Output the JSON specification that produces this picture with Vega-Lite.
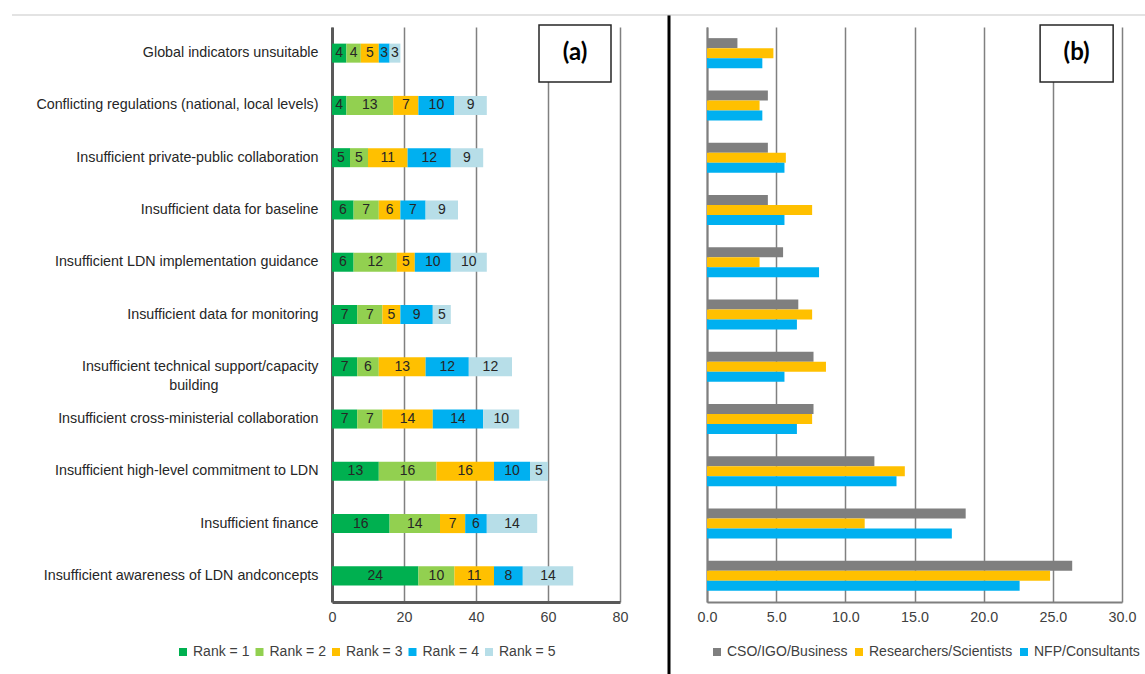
{
  "$schema": "https://vega.github.io/schema/vega-lite/v6.json",
  "background": "white",
  "padding": {"left": 11, "top": 13, "right": 0, "bottom": 0},
  "bounds": "flush",
  "spacing": 38,
  "resolve": {"scale": {"color": "independent"}, "legend": {"color": "independent"}},
  "config": {
    "font": "Liberation Sans, Arial, sans-serif",
    "view": {"stroke": null},
    "axis": {"labelFontSize": 14.3, "labelColor": "#404040", "ticks": false, "title": null},
    "axisX": {"grid": true, "gridColor": "#808080", "gridWidth": 1.5, "labelPadding": 8, "labelFlush": false},
    "legend": {"labelFontSize": 14, "labelColor": "#404040", "symbolType": "square", "symbolSize": 64, "symbolStrokeWidth": 0, "labelOffset": 3, "direction": "horizontal", "orient": "none", "title": null, "columnPadding": 0}
  },
  "datasets": {
    "ranks": [
      {"barrier": "Global indicators unsuitable", "rank": "Rank = 1", "count": 4},
      {"barrier": "Global indicators unsuitable", "rank": "Rank = 2", "count": 4},
      {"barrier": "Global indicators unsuitable", "rank": "Rank = 3", "count": 5},
      {"barrier": "Global indicators unsuitable", "rank": "Rank = 4", "count": 3},
      {"barrier": "Global indicators unsuitable", "rank": "Rank = 5", "count": 3},
      {"barrier": "Conflicting regulations (national, local levels)", "rank": "Rank = 1", "count": 4},
      {"barrier": "Conflicting regulations (national, local levels)", "rank": "Rank = 2", "count": 13},
      {"barrier": "Conflicting regulations (national, local levels)", "rank": "Rank = 3", "count": 7},
      {"barrier": "Conflicting regulations (national, local levels)", "rank": "Rank = 4", "count": 10},
      {"barrier": "Conflicting regulations (national, local levels)", "rank": "Rank = 5", "count": 9},
      {"barrier": "Insufficient private-public collaboration", "rank": "Rank = 1", "count": 5},
      {"barrier": "Insufficient private-public collaboration", "rank": "Rank = 2", "count": 5},
      {"barrier": "Insufficient private-public collaboration", "rank": "Rank = 3", "count": 11},
      {"barrier": "Insufficient private-public collaboration", "rank": "Rank = 4", "count": 12},
      {"barrier": "Insufficient private-public collaboration", "rank": "Rank = 5", "count": 9},
      {"barrier": "Insufficient data for baseline", "rank": "Rank = 1", "count": 6},
      {"barrier": "Insufficient data for baseline", "rank": "Rank = 2", "count": 7},
      {"barrier": "Insufficient data for baseline", "rank": "Rank = 3", "count": 6},
      {"barrier": "Insufficient data for baseline", "rank": "Rank = 4", "count": 7},
      {"barrier": "Insufficient data for baseline", "rank": "Rank = 5", "count": 9},
      {"barrier": "Insufficient LDN implementation guidance", "rank": "Rank = 1", "count": 6},
      {"barrier": "Insufficient LDN implementation guidance", "rank": "Rank = 2", "count": 12},
      {"barrier": "Insufficient LDN implementation guidance", "rank": "Rank = 3", "count": 5},
      {"barrier": "Insufficient LDN implementation guidance", "rank": "Rank = 4", "count": 10},
      {"barrier": "Insufficient LDN implementation guidance", "rank": "Rank = 5", "count": 10},
      {"barrier": "Insufficient data for monitoring", "rank": "Rank = 1", "count": 7},
      {"barrier": "Insufficient data for monitoring", "rank": "Rank = 2", "count": 7},
      {"barrier": "Insufficient data for monitoring", "rank": "Rank = 3", "count": 5},
      {"barrier": "Insufficient data for monitoring", "rank": "Rank = 4", "count": 9},
      {"barrier": "Insufficient data for monitoring", "rank": "Rank = 5", "count": 5},
      {"barrier": "Insufficient technical support/capacity building", "rank": "Rank = 1", "count": 7},
      {"barrier": "Insufficient technical support/capacity building", "rank": "Rank = 2", "count": 6},
      {"barrier": "Insufficient technical support/capacity building", "rank": "Rank = 3", "count": 13},
      {"barrier": "Insufficient technical support/capacity building", "rank": "Rank = 4", "count": 12},
      {"barrier": "Insufficient technical support/capacity building", "rank": "Rank = 5", "count": 12},
      {"barrier": "Insufficient cross-ministerial collaboration", "rank": "Rank = 1", "count": 7},
      {"barrier": "Insufficient cross-ministerial collaboration", "rank": "Rank = 2", "count": 7},
      {"barrier": "Insufficient cross-ministerial collaboration", "rank": "Rank = 3", "count": 14},
      {"barrier": "Insufficient cross-ministerial collaboration", "rank": "Rank = 4", "count": 14},
      {"barrier": "Insufficient cross-ministerial collaboration", "rank": "Rank = 5", "count": 10},
      {"barrier": "Insufficient high-level commitment to LDN", "rank": "Rank = 1", "count": 13},
      {"barrier": "Insufficient high-level commitment to LDN", "rank": "Rank = 2", "count": 16},
      {"barrier": "Insufficient high-level commitment to LDN", "rank": "Rank = 3", "count": 16},
      {"barrier": "Insufficient high-level commitment to LDN", "rank": "Rank = 4", "count": 10},
      {"barrier": "Insufficient high-level commitment to LDN", "rank": "Rank = 5", "count": 5},
      {"barrier": "Insufficient finance", "rank": "Rank = 1", "count": 16},
      {"barrier": "Insufficient finance", "rank": "Rank = 2", "count": 14},
      {"barrier": "Insufficient finance", "rank": "Rank = 3", "count": 7},
      {"barrier": "Insufficient finance", "rank": "Rank = 4", "count": 6},
      {"barrier": "Insufficient finance", "rank": "Rank = 5", "count": 14},
      {"barrier": "Insufficient awareness of LDN andconcepts", "rank": "Rank = 1", "count": 24},
      {"barrier": "Insufficient awareness of LDN andconcepts", "rank": "Rank = 2", "count": 10},
      {"barrier": "Insufficient awareness of LDN andconcepts", "rank": "Rank = 3", "count": 11},
      {"barrier": "Insufficient awareness of LDN andconcepts", "rank": "Rank = 4", "count": 8},
      {"barrier": "Insufficient awareness of LDN andconcepts", "rank": "Rank = 5", "count": 14}
    ],
    "groups": [
      {"barrier": "Global indicators unsuitable", "group": "CSO/IGO/Business", "pct": 2.2},
      {"barrier": "Global indicators unsuitable", "group": "Researchers/Scientists", "pct": 4.8},
      {"barrier": "Global indicators unsuitable", "group": "NFP/Consultants", "pct": 4.0},
      {"barrier": "Conflicting regulations (national, local levels)", "group": "CSO/IGO/Business", "pct": 4.4},
      {"barrier": "Conflicting regulations (national, local levels)", "group": "Researchers/Scientists", "pct": 3.8},
      {"barrier": "Conflicting regulations (national, local levels)", "group": "NFP/Consultants", "pct": 4.0},
      {"barrier": "Insufficient private-public collaboration", "group": "CSO/IGO/Business", "pct": 4.4},
      {"barrier": "Insufficient private-public collaboration", "group": "Researchers/Scientists", "pct": 5.7},
      {"barrier": "Insufficient private-public collaboration", "group": "NFP/Consultants", "pct": 5.6},
      {"barrier": "Insufficient data for baseline", "group": "CSO/IGO/Business", "pct": 4.4},
      {"barrier": "Insufficient data for baseline", "group": "Researchers/Scientists", "pct": 7.6},
      {"barrier": "Insufficient data for baseline", "group": "NFP/Consultants", "pct": 5.6},
      {"barrier": "Insufficient LDN implementation guidance", "group": "CSO/IGO/Business", "pct": 5.5},
      {"barrier": "Insufficient LDN implementation guidance", "group": "Researchers/Scientists", "pct": 3.8},
      {"barrier": "Insufficient LDN implementation guidance", "group": "NFP/Consultants", "pct": 8.1},
      {"barrier": "Insufficient data for monitoring", "group": "CSO/IGO/Business", "pct": 6.6},
      {"barrier": "Insufficient data for monitoring", "group": "Researchers/Scientists", "pct": 7.6},
      {"barrier": "Insufficient data for monitoring", "group": "NFP/Consultants", "pct": 6.5},
      {"barrier": "Insufficient technical support/capacity building", "group": "CSO/IGO/Business", "pct": 7.7},
      {"barrier": "Insufficient technical support/capacity building", "group": "Researchers/Scientists", "pct": 8.6},
      {"barrier": "Insufficient technical support/capacity building", "group": "NFP/Consultants", "pct": 5.6},
      {"barrier": "Insufficient cross-ministerial collaboration", "group": "CSO/IGO/Business", "pct": 7.7},
      {"barrier": "Insufficient cross-ministerial collaboration", "group": "Researchers/Scientists", "pct": 7.6},
      {"barrier": "Insufficient cross-ministerial collaboration", "group": "NFP/Consultants", "pct": 6.5},
      {"barrier": "Insufficient high-level commitment to LDN", "group": "CSO/IGO/Business", "pct": 12.1},
      {"barrier": "Insufficient high-level commitment to LDN", "group": "Researchers/Scientists", "pct": 14.3},
      {"barrier": "Insufficient high-level commitment to LDN", "group": "NFP/Consultants", "pct": 13.7},
      {"barrier": "Insufficient finance", "group": "CSO/IGO/Business", "pct": 18.7},
      {"barrier": "Insufficient finance", "group": "Researchers/Scientists", "pct": 11.4},
      {"barrier": "Insufficient finance", "group": "NFP/Consultants", "pct": 17.7},
      {"barrier": "Insufficient awareness of LDN andconcepts", "group": "CSO/IGO/Business", "pct": 26.4},
      {"barrier": "Insufficient awareness of LDN andconcepts", "group": "Researchers/Scientists", "pct": 24.8},
      {"barrier": "Insufficient awareness of LDN andconcepts", "group": "NFP/Consultants", "pct": 22.6}
    ]
  },
  "hconcat": [
    {
      "width": 288,
      "height": 575,
      "layer": [
        {
          "data": {"name": "ranks"},
          "transform": [
            {"stack": "count", "groupby": ["barrier"], "sort": [{"field": "rank", "order": "ascending"}], "as": ["start", "end"]},
            {"calculate": "(datum.start + datum.end) / 2", "as": "mid"}
          ],
          "encoding": {
            "y": {
              "field": "barrier", "type": "nominal",
              "sort": ["Global indicators unsuitable", "Conflicting regulations (national, local levels)", "Insufficient private-public collaboration", "Insufficient data for baseline", "Insufficient LDN implementation guidance", "Insufficient data for monitoring", "Insufficient technical support/capacity building", "Insufficient cross-ministerial collaboration", "Insufficient high-level commitment to LDN", "Insufficient finance", "Insufficient awareness of LDN andconcepts"],
              "scale": {"paddingInner": 0.636, "paddingOuter": 0.318},
              "axis": {
                "domainColor": "#595959", "domainWidth": 3, "labelPadding": 14, "labelColor": "#262626", "labelLimit": 500, "labelLineHeight": 19, "grid": false,
                "labelExpr": "datum.label == 'Insufficient technical support/capacity building' ? ['Insufficient technical support/capacity', 'building\u2800\u2800\u2800\u2800\u2800\u2800\u2800\u2800\u2800\u2800'] : datum.label"
              },
              "title": null
            }
          },
          "layer": [
            {
              "mark": {"type": "bar"},
              "encoding": {
                "x": {
                  "field": "start", "type": "quantitative",
                  "scale": {"domain": [0, 80]},
                  "axis": {"values": [0, 20, 40, 60, 80], "domainColor": "#595959", "domainWidth": 3},
                  "title": null
                },
                "x2": {"field": "end"},
                "color": {
                  "field": "rank", "type": "nominal",
                  "scale": {"domain": ["Rank = 1", "Rank = 2", "Rank = 3", "Rank = 4", "Rank = 5"], "range": ["#00b050", "#92d050", "#ffc000", "#00b0f0", "#b7dee8"]},
                  "legend": {"legendX": -156, "legendY": 618, "columnPadding": 2.5}
                }
              }
            },
            {
              "mark": {"type": "text", "fontSize": 14, "color": "#262626"},
              "encoding": {
                "x": {"field": "mid", "type": "quantitative"},
                "text": {"field": "count", "type": "quantitative"}
              }
            }
          ]
        },
        {
          "data": {"values": [{"label": "(a)"}]},
          "layer": [
            {
              "mark": {"type": "rect", "fill": "white", "stroke": "#262626", "strokeWidth": 1.5},
              "encoding": {
                "x": {"datum": 57.5, "type": "quantitative"},
                "x2": {"datum": 77.5},
                "y": {"datum": -0.0035, "type": "quantitative", "scale": {"domain": [0, 1], "reverse": true}, "axis": null},
                "y2": {"datum": 0.0957}
              }
            },
            {
              "mark": {"type": "text", "font": "Lato", "fontWeight": "bold", "fontSize": 24, "color": "black"},
              "encoding": {
                "x": {"datum": 67.5, "type": "quantitative"},
                "y": {"datum": 0.046, "type": "quantitative", "scale": {"domain": [0, 1], "reverse": true}, "axis": null},
                "text": {"field": "label"}
              }
            }
          ]
        }
      ],
      "resolve": {"scale": {"y": "independent"}}
    },
    {
      "width": 11,
      "height": 575,
      "data": {"values": [{}]},
      "layer": [
        {
          "mark": {"type": "rule", "color": "black", "strokeWidth": 3},
          "encoding": {
            "x": {"datum": 1, "type": "quantitative", "scale": {"domain": [0, 1]}, "axis": null},
            "y": {"datum": -0.02087, "type": "quantitative", "scale": {"domain": [0, 1], "reverse": true}, "axis": null},
            "y2": {"datum": 1.1287}
          }
        },
        {
          "mark": {"type": "rule", "color": "#c8c8c8", "strokeWidth": 1.2},
          "encoding": {
            "x": {"datum": -58.7273, "type": "quantitative"},
            "x2": {"datum": 44.3636},
            "y": {"datum": -0.02087, "type": "quantitative"}
          }
        }
      ]
    },
    {
      "width": 415,
      "height": 575,
      "layer": [
        {
          "data": {"name": "groups"},
          "mark": {"type": "bar"},
          "encoding": {
            "y": {
              "field": "barrier", "type": "nominal",
              "sort": ["Global indicators unsuitable", "Conflicting regulations (national, local levels)", "Insufficient private-public collaboration", "Insufficient data for baseline", "Insufficient LDN implementation guidance", "Insufficient data for monitoring", "Insufficient technical support/capacity building", "Insufficient cross-ministerial collaboration", "Insufficient high-level commitment to LDN", "Insufficient finance", "Insufficient awareness of LDN andconcepts"],
              "scale": {"paddingInner": 0.426, "paddingOuter": 0.213},
              "axis": {"labels": false, "ticks": false, "grid": false, "domainColor": "#7f7f7f", "domainWidth": 2},
              "title": null
            },
            "yOffset": {"field": "group", "type": "nominal", "sort": ["CSO/IGO/Business", "Researchers/Scientists", "NFP/Consultants"], "scale": {"paddingInner": 0, "paddingOuter": 0}},
            "x": {
              "field": "pct", "type": "quantitative",
              "scale": {"domain": [0, 30]},
              "axis": {"values": [0, 5, 10, 15, 20, 25, 30], "format": ".1f", "domainColor": "#7f7f7f", "domainWidth": 2},
              "title": null
            },
            "color": {
              "field": "group", "type": "nominal",
              "scale": {"domain": ["CSO/IGO/Business", "Researchers/Scientists", "NFP/Consultants"], "range": ["#7f7f7f", "#ffc000", "#00b0f0"]},
              "legend": {"legendX": 3, "legendY": 618, "columnPadding": 4}
            }
          }
        },
        {
          "data": {"values": [{"label": "(b)"}]},
          "layer": [
            {
              "mark": {"type": "rect", "fill": "white", "stroke": "#262626", "strokeWidth": 1.5},
              "encoding": {
                "x": {"datum": 24.08, "type": "quantitative"},
                "x2": {"datum": 29.36},
                "y": {"datum": -0.0035, "type": "quantitative", "scale": {"domain": [0, 1], "reverse": true}, "axis": null},
                "y2": {"datum": 0.0957}
              }
            },
            {
              "mark": {"type": "text", "font": "Lato", "fontWeight": "bold", "fontSize": 24, "color": "black"},
              "encoding": {
                "x": {"datum": 26.72, "type": "quantitative"},
                "y": {"datum": 0.046, "type": "quantitative", "scale": {"domain": [0, 1], "reverse": true}, "axis": null},
                "text": {"field": "label"}
              }
            }
          ]
        }
      ],
      "resolve": {"scale": {"y": "independent"}}
    }
  ]
}
